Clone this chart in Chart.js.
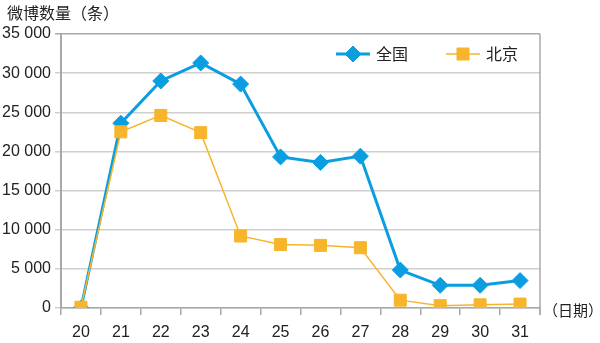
<!DOCTYPE html>
<html>
<head>
<meta charset="utf-8">
<script src="https://cdn.jsdelivr.net/npm/chart.js@4/dist/chart.umd.min.js"></script>
<style>
  html, body { margin: 0; padding: 0; background: #fff; }
  #box { width: 600px; height: 343px; }
</style>
</head>
<body>
<div id="box"><canvas id="weiboChart"></canvas></div>
<script>
const days = ['20', '21', '22', '23', '24', '25', '26', '27', '28', '29', '30', '31'];
const national = [0, 23600, 29000, 31300, 28600, 19300, 18600, 19400, 4850, 2900, 2900, 3500];
const beijing = [100, 22500, 24600, 22400, 9200, 8100, 8000, 7700, 1000, 300, 400, 500];
const yMax = 35000;
const yStep = 5000;

const blue = 'rgb(10, 158, 225)';
const orange = 'rgb(247, 181, 43)';
const cjk = '"Noto Sans CJK SC", sans-serif';
const num = '"Liberation Sans", Arial, sans-serif';

// title, axis note, frame and legend drawn on the canvas
const extras = {
    id: 'extras',
    afterDraw(chart) {
        const ctx = chart.ctx;
        const a = chart.chartArea;
        ctx.save();
        // right frame line
        ctx.strokeStyle = '#a8a8a8';
        ctx.lineWidth = 1.5;
        ctx.beginPath();
        ctx.moveTo(a.right, a.top);
        ctx.lineTo(a.right, a.bottom + 7);
        ctx.stroke();

        ctx.fillStyle = '#222';
        ctx.font = '16px ' + cjk;
        ctx.textBaseline = 'middle';
        ctx.textAlign = 'left';
        ctx.fillText('微博数量（条）', 7, 13);
        ctx.font = '15px ' + cjk;
        ctx.fillText('（日期）', a.right + 3, a.bottom + 2);

        // legend
        const items = [
            { ds: chart.data.datasets[1], x: 336 },
            { ds: chart.data.datasets[0], x: 446 }
        ];
        const ly = 54;
        items.forEach((it) => {
            const ds = it.ds;
            ctx.strokeStyle = ds.borderColor;
            ctx.lineWidth = ds.borderWidth;
            ctx.beginPath();
            ctx.moveTo(it.x, ly);
            ctx.lineTo(it.x + 34, ly);
            ctx.stroke();
            ctx.fillStyle = ds.backgroundColor;
            ctx.lineWidth = 1;
            Chart.helpers.drawPoint(ctx, {
                pointStyle: ds.pointStyle,
                radius: ds.pointRadius,
                borderWidth: 1
            }, it.x + 17, ly);
            ctx.fillStyle = '#222';
            ctx.font = '16px ' + cjk;
            ctx.fillText(ds.label, it.x + 40, ly);
        });
        ctx.restore();
    }
};

const ctx = document.getElementById('weiboChart').getContext('2d');

const chart = new Chart(ctx, {
    type: 'line',
    data: {
        labels: days,
        datasets: [
            {
                label: '北京',
                data: beijing,
                borderColor: orange,
                backgroundColor: orange,
                borderWidth: 1.5,
                pointStyle: 'rect',
                pointRadius: 8.5,
                pointBorderWidth: 1,
                pointBorderColor: orange,
                tension: 0,
                order: 0
            },
            {
                label: '全国',
                data: national,
                borderColor: blue,
                backgroundColor: blue,
                borderWidth: 3,
                pointStyle: 'rectRot',
                pointRadius: 8,
                pointBorderWidth: 1,
                pointBorderColor: blue,
                tension: 0,
                order: 1
            }
        ]
    },
    options: {
        responsive: true,
        maintainAspectRatio: false,
        animation: false,
        devicePixelRatio: 1,
        layout: { padding: { top: 34, right: 60, left: 0, bottom: 0 } },
        plugins: {
            legend: { display: false },
            tooltip: { enabled: false }
        },
        scales: {
            x: {
                offset: true,
                grid: {
                    offset: true,
                    drawOnChartArea: false,
                    drawTicks: true,
                    tickLength: 7,
                    color: '#a8a8a8',
                    lineWidth: 1.5
                },
                border: { color: '#a8a8a8', width: 1.5 },
                ticks: {
                    color: '#222',
                    padding: 8,
                    maxRotation: 0,
                    font: { family: num, size: 16 }
                },
                afterFit(scale) { scale.height = 35; }
            },
            y: {
                min: 0,
                max: yMax,
                grid: {
                    color: (c) => c.tick && c.tick.value === yMax ? '#a8a8a8' : '#cfcfcf',
                    lineWidth: 1.5,
                    tickLength: 6
                },
                border: { color: '#a8a8a8', width: 2 },
                ticks: {
                    stepSize: yStep,
                    color: '#222',
                    padding: 4,
                    font: { family: num, size: 16 },
                    callback: (v) => v >= 1000 ? Math.floor(v / 1000) + ' ' + String(v % 1000).padStart(3, '0') : String(v)
                },
                afterFit(scale) { scale.width = 61; }
            }
        }
    },
    plugins: [extras]
});
</script>
</body>
</html>
